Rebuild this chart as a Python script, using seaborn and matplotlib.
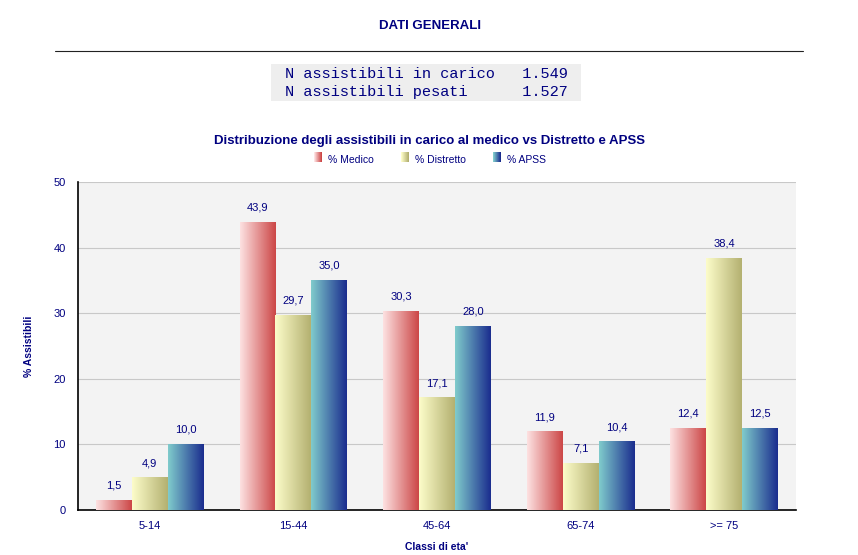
import numpy as np
import pandas as pd
import matplotlib
matplotlib.use("Agg")
import matplotlib.pyplot as plt
import seaborn as sns
from matplotlib.colors import LinearSegmentedColormap
from matplotlib.patches import Rectangle
from matplotlib.legend_handler import HandlerBase

# --- dati ---
classi = ["5-14", "15-44", "45-64", "65-74", ">= 75"]
serie = ["% Medico", "% Distretto", "% APSS"]
medico = [1.5, 43.9, 30.3, 11.9, 12.4]
distretto = [4.9, 29.7, 17.1, 7.1, 38.4]
apss = [10.0, 35.0, 28.0, 10.4, 12.5]
righe_info = ["N assistibili in carico   1.549",
              "N assistibili pesati      1.527"]

NAVY = "#000080"
gradienti = {
    "% Medico": ("#fde2e2", "#cc4646"),
    "% Distretto": ("#fdfdca", "#b3b070"),
    "% APSS": ("#80cccc", "#1a2c8e"),
}

df = pd.DataFrame({
    "Classe": classi * 3,
    "Serie": [s for s in serie for _ in classi],
    "Valore": medico + distretto + apss,
})

sns.set_style("white")
plt.rcParams['font.family'] = ['Liberation Sans', 'DejaVu Sans']

fig = plt.figure(figsize=(8.58, 5.55), dpi=100)
ax = fig.add_axes([78 / 858, 1 - 510 / 555, (796 - 78) / 858, (510 - 182) / 555])
ax.set_facecolor("#f3f3f3")

palette = {s: gradienti[s][1] for s in serie}
sns.barplot(data=df, x="Classe", y="Valore", hue="Serie", hue_order=serie,
            order=classi, palette=palette, width=0.75, ax=ax, legend=False,
            zorder=3)

# sfumature orizzontali sulle barre
grad = np.linspace(0, 1, 256).reshape(1, -1)
for s, cont in zip(serie, ax.containers):
    cmap = LinearSegmentedColormap.from_list(s, gradienti[s])
    for bar in cont:
        x, w, h = bar.get_x(), bar.get_width(), bar.get_height()
        ax.imshow(grad, extent=[x, x + w, 0, h], aspect="auto", cmap=cmap,
                  zorder=3, interpolation="bicubic")
        bar.set_visible(False)
    etichette = [f"{b.get_height():.1f}".replace(".", ",") for b in cont]
    ax.bar_label(cont, labels=etichette, padding=7, fontsize=8, color=NAVY)

ax.set_xlim(-0.5, 4.5)
ax.set_ylim(0, 50)
ax.set_aspect("auto")

# assi
ax.set_yticks([0, 10, 20, 30, 40, 50])
ax.yaxis.grid(True, color="#c8c8c8", linewidth=0.8, zorder=0)
ax.set_axisbelow(True)
ax.tick_params(axis="y", length=0, pad=9, labelsize=8, labelcolor=NAVY)
ax.tick_params(axis="x", which="major", length=0, pad=8, labelsize=8, labelcolor=NAVY)
ax.set_xticks(np.arange(-0.5, 5, 1), minor=True)
ax.tick_params(axis="x", which="minor", length=5, width=1.2, color="black", direction="out")
for sp in ["top", "right"]:
    ax.spines[sp].set_visible(False)
for sp in ["left", "bottom"]:
    ax.spines[sp].set_color("black")
    ax.spines[sp].set_linewidth(1.2)

ax.set_xlabel("Classi di eta'", fontsize=7.5, fontweight="bold", color=NAVY, labelpad=8)
ax.set_ylabel("% Assistibili", fontsize=7.5, fontweight="bold", color=NAVY, labelpad=14)


# legenda con quadratini sfumati
class GradHandler(HandlerBase):
    def create_artists(self, legend, orig, xd, yd, width, height, fontsize, trans):
        c0, c1 = orig.grad
        cmap = LinearSegmentedColormap.from_list("h", [c0, c1])
        n = 8
        arts = []
        for i in range(n):
            r = Rectangle((xd + width * i / n, yd), width / n + 0.05, height,
                          facecolor=cmap(i / (n - 1)), edgecolor="none",
                          transform=trans)
            arts.append(r)
        return arts


handles = []
for s in serie:
    p = Rectangle((0, 0), 1, 1)
    p.grad = gradienti[s]
    handles.append(p)
leg = fig.legend(handles, serie, loc="center", ncol=3,
                 bbox_to_anchor=(430 / 858, 1 - 160 / 555), frameon=False,
                 fontsize=7.5, handlelength=0.75, handleheight=1.1,
                 handletextpad=0.6, columnspacing=2.6,
                 handler_map={Rectangle: GradHandler()})
for t in leg.get_texts():
    t.set_color(NAVY)

# intestazione
fig.text(430 / 858, 1 - 26 / 555, "DATI GENERALI", ha="center", va="center",
         fontsize=9.5, fontweight="bold", color=NAVY)
fig.add_artist(plt.Line2D([55 / 858, 803 / 858], [1 - 51 / 555, 1 - 51 / 555],
                          color="#222222", linewidth=0.8))
fig.add_artist(Rectangle((271 / 858, 1 - 101 / 555), 310 / 858, 37 / 555,
                         facecolor="#eeeeee", edgecolor="none",
                         transform=fig.transFigure))
for i, riga in enumerate(righe_info):
    fig.text(285 / 858, 1 - (74 + 18 * i) / 555, riga, ha="left", va="center",
             fontsize=11, family="Liberation Mono", color=NAVY)

fig.text(430 / 858, 1 - 141 / 555,
         "Distribuzione degli assistibili in carico al medico vs Distretto e APSS",
         ha="center", va="center", fontsize=9.5, fontweight="bold", color=NAVY)

fig.savefig("out.png", dpi=100)
